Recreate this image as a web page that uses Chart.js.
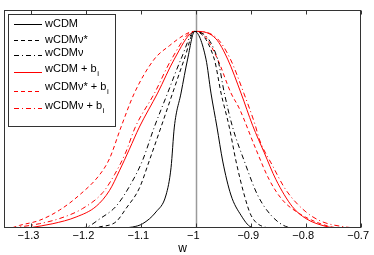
<!DOCTYPE html>
<html>
<head>
<meta charset="utf-8">
<script src="https://cdn.jsdelivr.net/npm/chart.js@4.4.0/dist/chart.umd.min.js"></script>
<style>
html,body{margin:0;padding:0;background:#fff;}
#wrap{width:374px;height:255px;position:relative;}
</style>
</head>
<body>
<div id="wrap"><canvas id="c"></canvas></div>
<script>
// x-axis tick values
const xTicks = [-1.3, -1.2, -1.1, -1.0, -0.9, -0.8, -0.7];

// wCDM (black solid)
const wcdmX = [-1.13, -1.1158, -1.0976, -1.0733, -1.0551, -1.046, -1.040, -1.0278, -1.0158, -1.003, -0.9824, -0.9733, -0.9624, -0.952, -0.937, -0.9187, -0.9005, -0.89];
const wcdmY = [0, 0.004, 0.021, 0.081, 0.167, 0.306, 0.513, 0.686, 0.859, 1.0, 0.859, 0.686, 0.513, 0.340, 0.167, 0.064, 0.004, 0];

// wCDMν* (black dashed)
const wcdmNuStarX = [-1.19, -1.176, -1.146, -1.128, -1.1036, -1.0855, -1.0642, -1.0431, -1.0218, -1.003, -0.9673, -0.955, -0.94, -0.9278, -0.9127, -0.9005, -0.8764, -0.865];
const wcdmNuStarY = [0, 0.005, 0.031, 0.098, 0.202, 0.342, 0.513, 0.686, 0.859, 1.0, 0.859, 0.686, 0.513, 0.340, 0.167, 0.064, 0.004, 0];

// wCDMν (black dash-dot)
const wcdmNuX = [-1.21, -1.198, -1.176, -1.146, -1.12, -1.098, -1.0764, -1.0522, -1.0278, -1.003, -0.9612, -0.949, -0.934, -0.9127, -0.8885, -0.864, -0.834, -0.82];
const wcdmNuY = [0, 0.005, 0.045, 0.11, 0.219, 0.342, 0.513, 0.686, 0.859, 1.0, 0.859, 0.686, 0.513, 0.340, 0.167, 0.064, 0.004, 0];

// wCDM + b_i (red solid)
const wcdmBX = [-1.3036, -1.261, -1.2187, -1.182, -1.158, -1.14, -1.1218, -1.1036, -1.0704, -1.04, -1.0067, -0.998, -0.9642, -0.943, -0.9187, -0.8976, -0.8764, -0.855, -0.825, -0.8005, -0.764, -0.75];
const wcdmBY = [0, 0.021, 0.055, 0.11, 0.19, 0.29, 0.40, 0.513, 0.686, 0.859, 0.996, 1.0, 0.962, 0.859, 0.686, 0.522, 0.383, 0.245, 0.107, 0.047, 0.007, 0];

// wCDMν* + b_i (red dashed)
const wcdmNuStarBX = [-1.335, -1.322, -1.2855, -1.249, -1.2127, -1.176, -1.158, -1.137, -1.1127, -1.0764, -1.049, -1.02, -1.005, -0.9855, -0.9613, -0.9369, -0.9218, -0.8915, -0.8673, -0.843, -0.8127, -0.7824, -0.758, -0.745];
const wcdmNuStarBY = [0, 0.012, 0.038, 0.090, 0.167, 0.27, 0.352, 0.513, 0.686, 0.859, 0.927, 0.985, 1.0, 0.979, 0.859, 0.686, 0.608, 0.40, 0.245, 0.141, 0.073, 0.030, 0.007, 0];

// wCDMν + b_i (red dash-dot)
const wcdmNuBX = [-1.335, -1.322, -1.2855, -1.249, -1.207, -1.170, -1.149, -1.129, -1.111, -1.076, -1.045, -1.009, -0.998, -0.962, -0.938, -0.9136, -0.8927, -0.8855, -0.861, -0.837, -0.8005, -0.770, -0.728, -0.715];
const wcdmNuBY = [0, 0.004, 0.021, 0.047, 0.098, 0.18, 0.27, 0.38, 0.513, 0.686, 0.859, 0.996, 1.0, 0.964, 0.859, 0.686, 0.522, 0.452, 0.315, 0.193, 0.081, 0.030, 0.004, 0];

const legendLabels = [["wCDM", ""], ["wCDMν*", ""], ["wCDMν", ""], ["wCDM + b", "i"], ["wCDMν* + b", "i"], ["wCDMν + b", "i"]];

const SOLID = [], DASH = [4, 3], DASHDOT = [5, 3, 1, 3];
const series = [
  {xs: wcdmX, ys: wcdmY, color: '#000000', dash: SOLID},
  {xs: wcdmNuStarX, ys: wcdmNuStarY, color: '#000000', dash: DASH},
  {xs: wcdmNuX, ys: wcdmNuY, color: '#000000', dash: DASHDOT},
  {xs: wcdmBX, ys: wcdmBY, color: '#ff0000', dash: SOLID},
  {xs: wcdmNuStarBX, ys: wcdmNuStarBY, color: '#ff0000', dash: DASH},
  {xs: wcdmNuBX, ys: wcdmNuBY, color: '#ff0000', dash: DASHDOT}
];

const datasets = series.map((s, i) => ({
  label: legendLabels[i].join(''),
  data: s.xs.map((x, k) => ({x: x, y: s.ys[k]})),
  borderColor: s.color,
  borderDash: s.dash,
  borderWidth: 1,
  pointRadius: 0,
  showLine: true,
  fill: false,
  cubicInterpolationMode: 'monotone'
}));

const FONT = '"Liberation Sans", Arial, Helvetica, sans-serif';

const framePlugin = {
  id: 'frame',
  beforeDatasetsDraw(chart) {
    const {ctx, chartArea: a, scales: {x}} = chart;
    const px = Math.round(x.getPixelForValue(-1.0)) + 0.5;
    ctx.save();
    ctx.strokeStyle = '#9a9a9a';
    ctx.lineWidth = 1.5;
    ctx.beginPath();
    ctx.moveTo(px, a.top);
    ctx.lineTo(px, a.bottom);
    ctx.stroke();
    ctx.restore();
  },
  afterDraw(chart) {
    const {ctx, chartArea: a, scales: {x}} = chart;
    ctx.save();
    ctx.strokeStyle = '#333';
    ctx.lineWidth = 1;
    const L = Math.round(a.left) + 0.5, R = Math.round(a.right) - 0.5;
    const T = Math.round(a.top) + 0.5, B = Math.round(a.bottom) - 0.5;
    ctx.strokeRect(L, T, R - L, B - T);
    ctx.beginPath();
    xTicks.forEach(v => {
      const p = Math.round(x.getPixelForValue(v)) + 0.5;
      ctx.moveTo(p, T); ctx.lineTo(p, T + 4);
      ctx.moveTo(p, B); ctx.lineTo(p, B - 4);
    });
    ctx.stroke();

    // legend box
    const bx = 8.5, by = 14.5, bw = 107, bh = 112;
    ctx.fillStyle = '#fff';
    ctx.fillRect(bx, by, bw, bh);
    ctx.strokeStyle = '#333';
    ctx.strokeRect(bx, by, bw, bh);
    const rowsLine = [24, 40, 54.5, 72, 90.5, 108];
    const rowsText = [24, 40, 53, 69, 87, 105.5];
    series.forEach((s, i) => {
      ctx.save();
      ctx.strokeStyle = s.color;
      ctx.setLineDash(s.dash.slice());
      ctx.lineWidth = 1;
      ctx.beginPath();
      ctx.moveTo(14, Math.round(rowsLine[i]) + 0.5);
      ctx.lineTo(42, Math.round(rowsLine[i]) + 0.5);
      ctx.stroke();
      ctx.restore();
      ctx.fillStyle = '#000';
      ctx.font = '11px ' + FONT;
      ctx.textBaseline = 'middle';
      ctx.textAlign = 'left';
      const [main, sub] = legendLabels[i];
      ctx.fillText(main, 45, rowsText[i]);
      if (sub) {
        const w = ctx.measureText(main).width;
        ctx.font = '8px ' + FONT;
        ctx.fillText(sub, 45 + w + 0.5, rowsText[i] + 5);
      }
    });
    ctx.restore();
  }
};

new Chart(document.getElementById('c'), {
  type: 'scatter',
  data: {datasets: datasets},
  options: {
    responsive: true,
    maintainAspectRatio: false,
    animation: false,
    layout: {padding: {left: 4, right: 12, top: 10, bottom: 0}},
    plugins: {legend: {display: false}, tooltip: {enabled: false}},
    scales: {
      x: {
        type: 'linear',
        min: -1.35,
        max: -0.7,
        afterBuildTicks(scale) { scale.ticks = xTicks.map(v => ({value: v})); },
        grid: {display: false, drawTicks: false},
        border: {display: false},
        ticks: {
          color: '#000',
          padding: 2,
          labelOffset: -3,
          maxRotation: 0,
          autoSkip: false,
          font: {family: FONT, size: 11},
          callback: v => {
            const r = Math.round(v * 10) / 10;
            let s = (r === -1) ? '1' : Math.abs(r).toString();
            return '\u2212' + s;
          }
        },
        title: {display: true, text: 'w', color: '#000', font: {family: FONT, size: 12, lineHeight: 1.0}, padding: {top: -2, bottom: 0}}
      },
      y: {
        display: false,
        min: 0,
        max: 1.109
      }
    }
  },
  plugins: [framePlugin]
});
</script>
</body>
</html>
